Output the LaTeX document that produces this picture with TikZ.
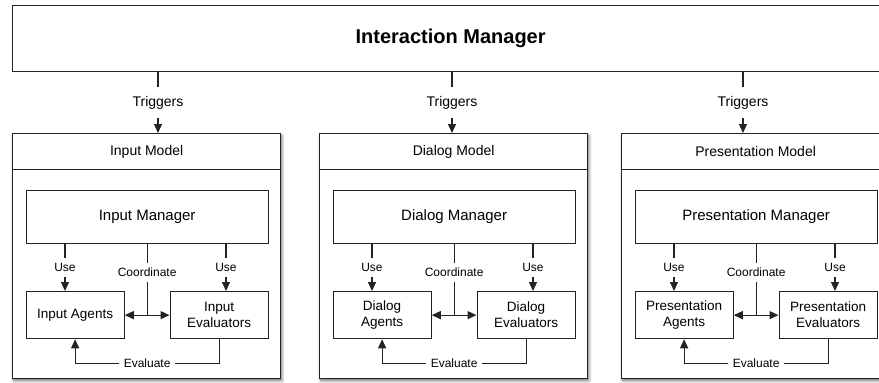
\documentclass[tikz,border=0pt]{standalone}
\usepackage{fontspec}
\setmainfont{Liberation Sans}
\usetikzlibrary{arrows.meta,shadows.blur,calc}

\definecolor{edge}{RGB}{35,35,35}

\tikzset{
  box/.style={draw=edge, line width=1.25pt, fill=white, inner sep=0pt,
              anchor=north west, align=center},
  modelbox/.style={box, minimum width=268pt, minimum height=245pt,
              blur shadow={shadow xshift=1.2pt, shadow yshift=-2pt,
                           shadow blur radius=3pt, shadow blur steps=8,
                           shadow opacity=60}},
  headbox/.style={box, minimum width=268pt, minimum height=36pt,
              font=\fontsize{14}{16}\selectfont},
  mgrbox/.style={box, minimum width=242pt, minimum height=53pt,
              font=\fontsize{15}{18}\selectfont},
  partbox/.style={box, minimum width=98pt, minimum height=47pt,
              font=\fontsize{13.5}{16}\selectfont},
  link/.style={draw=edge, line width=1.25pt},
  tip/.style={Triangle[length=9pt,width=8pt]},
  arr/.style={link, -{Triangle[length=9pt,width=8pt]}},
  dblarr/.style={link, {Triangle[length=9pt,width=8pt]}-{Triangle[length=9pt,width=8pt]}},
  lbl/.style={fill=white, inner xsep=5pt, inner ysep=5pt,
              font=\fontsize{12}{14}\selectfont},
  triglbl/.style={fill=white, inner xsep=4pt, inner ysep=9pt,
              font=\fontsize{14}{16}\selectfont},
}

\begin{document}
\begin{tikzpicture}[x=1pt, y=-1pt]
  \useasboundingbox (0,0) rectangle (879,383);
  \clip (0,0) rectangle (879,383);

  % top-level manager spanning all three models
  \node[box, minimum width=876pt, minimum height=66pt,
        font=\bfseries\fontsize{20}{24}\selectfont] (im) at (12,5)
        {Interaction Manager};

  \foreach \x/\tx/\n/\title/\mgr/\agt/\evl in {
      12/158/in/Input Model/Input Manager/Input Agents/{Input\\Evaluators},
      319/452/dl/Dialog Model/Dialog Manager/{Dialog\\Agents}/{Dialog\\Evaluators},
      621/743/pr/Presentation Model/Presentation Manager/{Presentation\\Agents}/{Presentation\\Evaluators}} {

    % model frame with its title bar
    \node[modelbox] (model-\n) at (\x,133) {};
    \node[headbox] (head-\n) at (model-\n.north west) {\title};

    % manager, agents and evaluators
    \node[mgrbox]  (mgr-\n) at (\x+13.5,189.5) {\mgr};
    \node[partbox] (agt-\n) at (\x+13.5,291) {\agt};
    \node[partbox] (evl-\n) at (\x+157.5,291) {\evl};

    % trigger from the interaction manager
    \coordinate (trig-\n) at (\tx,0);
    \draw[arr] (im.south -| trig-\n) -- node[triglbl] {Triggers}
               (model-\n.north -| trig-\n);

    % manager uses agents and evaluators
    \coordinate (usea-\n) at ($(mgr-\n.south west)+(39.5,0)$);
    \coordinate (usee-\n) at ($(mgr-\n.south west)+(200.5,0)$);
    \draw[arr] (usea-\n) -- node[lbl] {Use} (usea-\n |- agt-\n.north);
    \draw[arr] (usee-\n) -- node[lbl] {Use} (usee-\n |- evl-\n.north);

    % coordination between agents and evaluators
    \coordinate (coord-\n) at ($(agt-\n.east)!0.5!(evl-\n.west)$);
    \draw[dblarr] (agt-\n.east) -- (evl-\n.west);
    \draw[link] (mgr-\n.south -| coord-\n) -- node[lbl, pos=0.4] {Coordinate}
                (coord-\n);

    % evaluators feed back to agents
    \draw[arr] (evl-\n.south) -- ++(0,24) -| node[lbl, pos=0.25] {Evaluate}
               (agt-\n.south);
  }
\end{tikzpicture}
\end{document}
